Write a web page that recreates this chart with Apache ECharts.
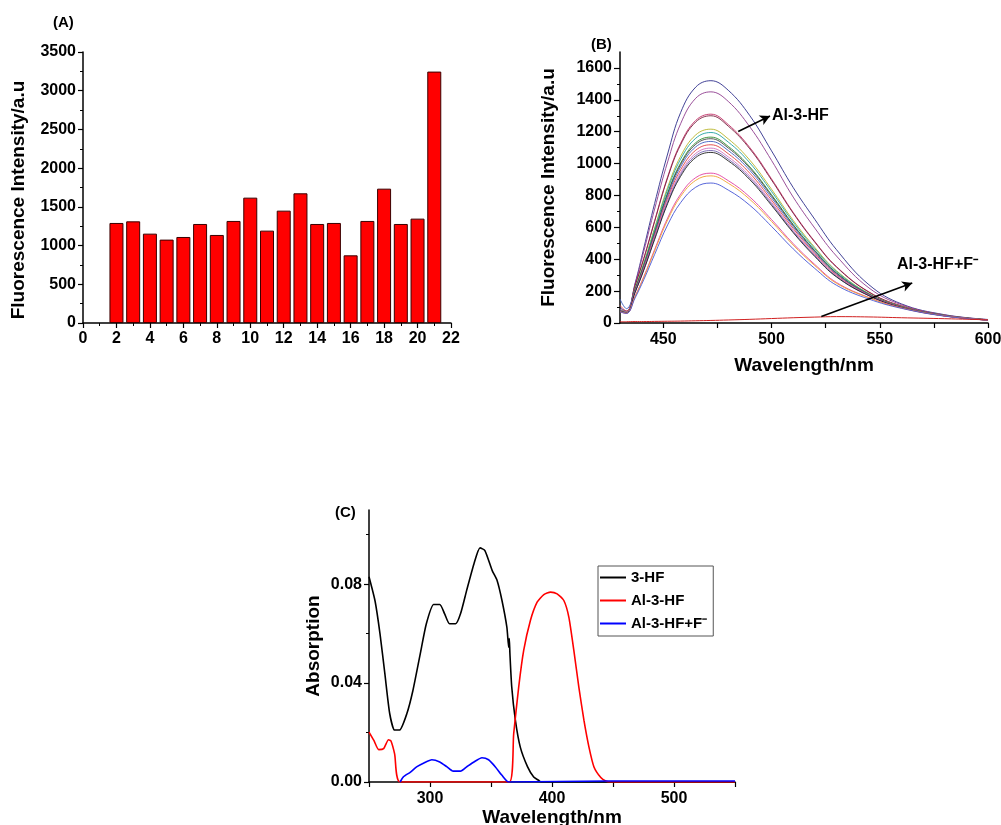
<!DOCTYPE html>
<html>
<head>
<meta charset="utf-8">
<script src="https://cdn.jsdelivr.net/npm/echarts@6/dist/echarts.min.js"></script>
<style>
  html, body { margin: 0; padding: 0; background: #fff; }
  #chart { width: 1001px; height: 825px; }
</style>
</head>
<body>
<div id="chart"></div>
<script>
// (A) 各样品的荧光强度
const barX = [2, 3, 4, 5, 6, 7, 8, 9, 10, 11, 12, 13, 14, 15, 16, 17, 18, 19, 20, 21]
const barValues = [1292, 1313, 1154, 1077, 1111, 1279, 1137, 1318, 1619, 1193, 1451, 1675, 1279, 1292, 874, 1318, 1735, 1279, 1348, 3247]

// (B) 发射光谱
const emWavelength = [430, 433, 437, 441, 446, 452, 458, 465, 472, 480, 490, 500, 510, 520, 530, 545, 560, 580, 600]
const em01 = [95, 75, 250, 470, 750, 1060, 1320, 1480, 1520, 1460, 1300, 1080, 850, 650, 460, 240, 120, 52, 22]
const em02 = [85, 72, 245, 450, 715, 1010, 1250, 1410, 1450, 1390, 1230, 1020, 790, 595, 420, 220, 115, 50, 21]
const em03 = [80, 68, 236, 406, 642, 917, 1127, 1271, 1310, 1245, 1100, 904, 694, 511, 354, 195, 108, 48, 20]
const em04 = [78, 66, 234, 403, 637, 910, 1118, 1261, 1300, 1235, 1092, 897, 689, 507, 351, 193, 106, 48, 20]
const em05 = [82, 70, 219, 377, 596, 851, 1046, 1180, 1216, 1155, 1021, 839, 644, 474, 328, 185, 104, 47, 20]
const em06 = [80, 68, 215, 370, 586, 837, 1028, 1159, 1195, 1135, 1004, 825, 633, 466, 323, 183, 103, 47, 19]
const em07 = [78, 66, 210, 361, 571, 816, 1003, 1131, 1166, 1108, 979, 805, 618, 455, 315, 180, 102, 46, 19]
const em08 = [76, 64, 208, 358, 566, 809, 994, 1121, 1156, 1098, 971, 798, 613, 451, 312, 179, 101, 46, 19]
const em09 = [150, 90, 205, 353, 558, 797, 980, 1105, 1139, 1082, 957, 786, 604, 444, 308, 178, 100, 46, 19]
const em10 = [110, 75, 201, 347, 548, 783, 961, 1084, 1118, 1062, 939, 771, 593, 436, 302, 176, 100, 45, 19]
const em11 = [80, 68, 197, 340, 538, 768, 943, 1064, 1097, 1042, 921, 757, 581, 428, 296, 174, 99, 45, 18]
const em12 = [78, 66, 195, 335, 530, 757, 931, 1050, 1082, 1028, 909, 747, 573, 422, 292, 172, 98, 45, 18]
const em13 = [76, 64, 193, 332, 524, 749, 920, 1038, 1070, 1017, 899, 738, 567, 417, 289, 171, 98, 45, 18]
const em14 = [70, 60, 169, 291, 461, 658, 808, 912, 940, 893, 790, 649, 498, 367, 254, 160, 95, 44, 18]
const em15 = [72, 62, 166, 286, 452, 646, 794, 895, 923, 877, 775, 637, 489, 360, 249, 158, 94, 44, 18]
const em16 = [70, 60, 158, 272, 430, 615, 755, 852, 878, 834, 738, 606, 465, 342, 237, 150, 92, 43, 18]
const emQuench = [8, 8, 9, 9, 10, 11, 12, 14, 16, 19, 23, 28, 33, 37, 40, 38, 33, 27, 20]
const emCurves = [em01, em02, em03, em04, em05, em06, em07, em08, em09, em10, em11, em12, em13, em14, em15, em16]
const emColors = ['#2c2c8a', '#8e3c8e', '#c23068', '#7a1f3d', '#b8b428', '#1fa0a0', '#2e8b2e', '#444444',
  '#3f5fc0', '#e04040', '#d070c0', '#7060b0', '#202020', '#e040a0', '#f0a030', '#4555d5']

// (C) 吸收光谱 [波长, 吸光度]
const abs3HF = [[250, 0.083], [255, 0.0731], [259, 0.060], [263, 0.0438], [267, 0.0276], [271, 0.021], [275, 0.021],
  [281, 0.0276], [286, 0.037], [292, 0.0518], [297, 0.064], [303, 0.0718], [308, 0.0718], [312, 0.068], [316, 0.064],
  [321, 0.064], [325, 0.068], [330, 0.0774], [336, 0.0882], [341, 0.0947], [345, 0.0936], [351, 0.0855], [355, 0.0815],
  [359, 0.0734], [363, 0.0626], [364.5, 0.0545], [365, 0.058], [365.5, 0.052], [367, 0.0384], [370, 0.0249],
  [374, 0.0141], [380, 0.0061], [385, 0.002], [389, 0.0007], [391, 0], [435, 0], [550, 0]]
const absAl = [[250, 0.0202], [254, 0.0168], [258, 0.0131], [262, 0.0135], [266, 0.0171], [268, 0.0166], [271, 0.0114],
  [275.5, 0], [365, 0], [368.6, 0.0195], [372.7, 0.0384], [376.8, 0.0532], [382.3, 0.0653], [387.8, 0.0727],
  [393.3, 0.0758], [398.8, 0.0768], [404.2, 0.0761], [409.7, 0.0734], [413.8, 0.0667], [417.9, 0.0532], [422, 0.0384],
  [426.2, 0.0249], [430.3, 0.0141], [434.4, 0.0061], [440, 0.0018], [444, 0.0004], [448, 0], [550, 0]]
const absAlF = [[275.5, 0], [278, 0.002], [284, 0.004], [289, 0.0061], [295, 0.0077], [301.5, 0.009], [308, 0.0081],
  [314, 0.0061], [319, 0.0044], [325, 0.0044], [330, 0.0061], [336, 0.0081], [342.6, 0.0098], [348, 0.009],
  [353.6, 0.0061], [359, 0.0027], [364.5, 0], [445, 0.0004], [550, 0.0004]]

const FONT = 'Liberation Sans'
const LABEL = { color: '#000', fontWeight: 'bold', fontSize: 16, fontFamily: FONT }

function baseAxis(gridIndex, extra) {
  return Object.assign({
    gridIndex: gridIndex,
    nameLocation: 'middle',
    nameMoveOverlap: false,
    nameTextStyle: { color: '#000', fontWeight: 'bold', fontSize: 19, fontFamily: FONT },
    axisLine: { show: true, lineStyle: { color: '#000', width: 1.5 } },
    axisTick: { show: true, inside: false, length: 5, lineStyle: { color: '#000', width: 1.2 } },
    minorTick: { show: false },
    splitLine: { show: false },
    axisLabel: Object.assign({ margin: 7 }, LABEL)
  }, extra)
}

// 只画短的次刻度的辅助轴
function minorAxis(gridIndex, min, max, values) {
  return {
    gridIndex: gridIndex, position: 'left', min: min, max: max,
    axisLine: { show: false }, splitLine: { show: false },
    axisLabel: { show: false },
    axisTick: { show: true, inside: false, length: 3, customValues: values, lineStyle: { color: '#000', width: 1 } }
  }
}

const chart = echarts.init(document.getElementById('chart'))

const emSeries = emCurves.map((c, i) => ({
  type: 'line', name: 'em' + (i + 1), xAxisIndex: 1, yAxisIndex: 1,
  data: emWavelength.map((w, j) => [w, c[j]]),
  smooth: 0.4, showSymbol: false, symbol: 'none',
  lineStyle: { color: emColors[i], width: 0.9 }
}))

emSeries.push({
  type: 'line', name: 'quench', xAxisIndex: 1, yAxisIndex: 1,
  data: emWavelength.map((w, j) => [w, emQuench[j]]),
  smooth: 0.4, symbol: 'none',
  lineStyle: { color: '#d02020', width: 1 },
  markLine: {
    silent: true, symbol: ['none', 'arrow'], symbolSize: [8, 10],
    lineStyle: { color: '#000', width: 1.6, type: 'solid' },
    label: { show: false },
    data: [
      [{ coord: [484.6, 1201] }, { coord: [499.3, 1299] }],
      [{ coord: [523, 41] }, { coord: [565, 251] }]
    ]
  }
})

const option = {
  animation: false,
  backgroundColor: '#fff',
  grid: [
    { left: 83, top: 52, width: 368, height: 271, outerBoundsMode: 'none' },
    { left: 620, top: 52, width: 368, height: 271, outerBoundsMode: 'none' },
    { left: 369, top: 510, width: 366, height: 272, outerBoundsMode: 'none' }
  ],
  xAxis: [
    baseAxis(0, {
      type: 'value', min: 0, max: 22, interval: 2,
      axisLabel: Object.assign({ margin: 8 }, LABEL),
      minorTick: { show: true, splitNumber: 2, length: 3, lineStyle: { color: '#000', width: 1 } }
    }),
    baseAxis(1, {
      type: 'value', min: 430, max: 600, interval: 5,
      name: 'Wavelength/nm', nameGap: 33,
      axisTick: { show: true, length: 5, customValues: [450, 475, 500, 525, 550, 575, 600], lineStyle: { color: '#000', width: 1.2 } },
      axisLabel: Object.assign({ margin: 9, customValues: [450, 500, 550, 600] }, LABEL)
    }),
    baseAxis(2, {
      type: 'value', min: 250, max: 550, interval: 50,
      name: 'Wavelength/nm', nameGap: 26,
      axisTick: { show: true, length: 5, customValues: [250, 300, 350, 400, 450, 500, 550], lineStyle: { color: '#000', width: 1.2 } },
      axisLabel: Object.assign({ margin: 9, customValues: [300, 400, 500] }, LABEL)
    })
  ],
  yAxis: [
    baseAxis(0, {
      type: 'value', min: 0, max: 3500, interval: 500,
      name: 'Fluorescence Intensity/a.u', nameGap: 55,
      nameTextStyle: { color: '#000', fontWeight: 'bold', fontSize: 19, fontFamily: FONT, padding: [0, 25, 0, 0] },
      axisLabel: Object.assign({ margin: 7, formatter: v => String(v) }, LABEL),
      minorTick: { show: true, splitNumber: 2, length: 3, lineStyle: { color: '#000', width: 1 } }
    }),
    baseAxis(1, {
      type: 'value', min: 0, max: 1700, interval: 100,
      name: 'Fluorescence Intensity/a.u', nameGap: 62,
      axisTick: { show: true, length: 6, customValues: [0, 200, 400, 600, 800, 1000, 1200, 1400, 1600], lineStyle: { color: '#000', width: 1.2 } },
      axisLabel: Object.assign({ margin: 8, customValues: [0, 200, 400, 600, 800, 1000, 1200, 1400, 1600], formatter: v => String(v) }, LABEL)
    }),
    baseAxis(2, {
      type: 'value', min: 0, max: 0.11, interval: 0.01,
      name: 'Absorption', nameGap: 46,
      axisTick: { show: true, length: 5, customValues: [0, 0.04, 0.08], lineStyle: { color: '#000', width: 1.2 } },
      axisLabel: Object.assign({ margin: 7, customValues: [0, 0.04, 0.08], formatter: v => v.toFixed(2) }, LABEL)
    }),
    minorAxis(1, 0, 1700, [100, 300, 500, 700, 900, 1100, 1300, 1500]),
    minorAxis(2, 0, 0.11, [0.02, 0.06, 0.1])
  ],
  legend: {
    data: ['3-HF', 'Al-3-HF', 'Al-3-HF+F\u207B'],
    orient: 'vertical', left: 598, top: 566,
    icon: 'rect', itemWidth: 26, itemHeight: 2, itemGap: 8,
    padding: [4, 6, 5, 2],
    borderColor: '#555', borderWidth: 1,
    textStyle: { color: '#000', fontWeight: 'bold', fontSize: 15, fontFamily: FONT }
  },
  graphic: [
    { type: 'text', left: 53, top: 15, style: { text: '(A)', font: 'bold 15px "Liberation Sans"', fill: '#000' } },
    { type: 'text', left: 591, top: 37, style: { text: '(B)', font: 'bold 15px "Liberation Sans"', fill: '#000' } },
    { type: 'text', left: 335, top: 505, style: { text: '(C)', font: 'bold 15px "Liberation Sans"', fill: '#000' } },
    { type: 'text', left: 772, top: 108, style: { text: 'Al-3-HF', font: 'bold 16px "Liberation Sans"', fill: '#000' } },
    { type: 'text', left: 897, top: 257, style: { text: 'Al-3-HF+F\u207B', font: 'bold 16px "Liberation Sans"', fill: '#000' } }
  ],
  series: [
    {
      type: 'bar', name: 'intensity', xAxisIndex: 0, yAxisIndex: 0,
      data: barX.map((x, i) => [x, barValues[i]]),
      barWidth: 14,
      itemStyle: { color: '#ff0000', borderColor: '#3a0000', borderWidth: 1 }
    },
    ...emSeries,
    {
      type: 'line', name: '3-HF', xAxisIndex: 2, yAxisIndex: 2,
      data: abs3HF, symbol: 'none', smooth: 0.2,
      lineStyle: { color: '#000', width: 1.6 }, itemStyle: { color: '#000' }
    },
    {
      type: 'line', name: 'Al-3-HF', xAxisIndex: 2, yAxisIndex: 2,
      data: absAl, symbol: 'none', smooth: 0.2,
      lineStyle: { color: '#ff0000', width: 1.6 }, itemStyle: { color: '#ff0000' }
    },
    {
      type: 'line', name: 'Al-3-HF+F\u207B', xAxisIndex: 2, yAxisIndex: 2,
      data: absAlF, symbol: 'none', smooth: 0.2,
      lineStyle: { color: '#0000ff', width: 1.6 }, itemStyle: { color: '#0000ff' }
    }
  ]
}

chart.setOption(option)
</script>
</body>
</html>
